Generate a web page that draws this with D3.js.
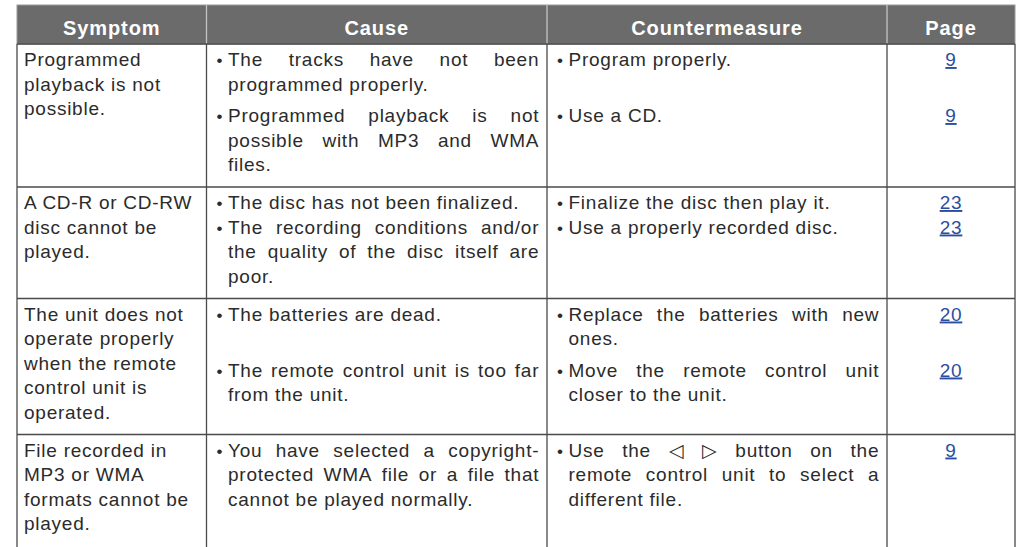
<!DOCTYPE html>
<html>
<head>
<meta charset="utf-8">
<script src="https://cdn.jsdelivr.net/npm/d3@7"></script>
<style>
  html, body { margin: 0; padding: 0; background: #ffffff; }
  svg { display: block; }
</style>
</head>
<body>
<div id="chart"></div>
<script>
// ---------- DATA ----------
const headers = ["Symptom", "Cause", "Countermeasure", "Page"];

const symptoms = [
  ["Programmed", "playback is not", "possible."],
  ["A CD-R or CD-RW", "disc cannot be", "played."],
  ["The unit does not", "operate properly", "when the remote", "control unit is", "operated."],
  ["File recorded in", "MP3 or WMA", "formats cannot be", "played."]
];

const causes = [
  [["The tracks have not been", "programmed properly."],
   ["Programmed playback is not", "possible with MP3 and WMA", "files."]],
  [["The disc has not been finalized."],
   ["The recording conditions and/or", "the quality of the disc itself are", "poor."]],
  [["The batteries are dead."],
   ["The remote control unit is too far", "from the unit."]],
  [["You have selected a copyright-", "protected WMA file or a file that", "cannot be played normally."]]
];

const countermeasures = [
  [["Program properly."], ["Use a CD."]],
  [["Finalize the disc then play it."], ["Use a properly recorded disc."]],
  [["Replace the batteries with new", "ones."], ["Move the remote control unit", "closer to the unit."]],
  [["Use the \u25C1 \u25B7 button on the", "remote control unit to select a", "different file."]]
];

const pages = [["9", "9"], ["23", "23"], ["20", "20"], ["9"]];

// ---------- LAYOUT ----------
const W = 1022, H = 547;
const FONT = "'Liberation Sans', Arial, Helvetica, sans-serif";
const FS = 19, LS = 0.75;
const LH = 24.5, FIRST = 22, PAD = 16, GAP = 7;
const HEAD_TOP = 5, TOP = 44;
const TEXT_COL = "#2b2b2b", LINK_COL = "#2b4ea2", RULE = "#4a4a4a";

const colX = d3.scaleOrdinal().domain(headers).range([17, 206.5, 547, 887]);
const colR = d3.scaleOrdinal().domain(headers).range([206.5, 547, 887, 1015]);
const LEFT = colX("Symptom"), RIGHT = colR("Page");

const svg = d3.select("#chart").append("svg")
  .attr("width", W).attr("height", H)
  .style("background", "#fff");

// compute rows
let yCur = TOP;
const rows = symptoms.map((s, i) => {
  const nItems = Math.max(causes[i].length, countermeasures[i].length);
  const sizes = d3.range(nItems).map(k =>
    Math.max((causes[i][k] || []).length, (countermeasures[i][k] || []).length));
  const starts = [];
  let off = 0;
  sizes.forEach(n => { starts.push(off); off += n * LH + (n > 1 ? GAP : 0); });
  const last = nItems - 1;
  const colEnd = starts[last] + (sizes[last] - 1) * LH;
  const symEnd = (s.length - 1) * LH;
  const h = FIRST + Math.max(colEnd, symEnd) + PAD;
  const row = { i, top: yCur, h, starts };
  yCur += h;
  return row;
});
// last row runs off the bottom of the page
rows[rows.length - 1].h = H + 20 - rows[rows.length - 1].top;

// header
svg.append("rect")
  .attr("x", LEFT).attr("y", HEAD_TOP)
  .attr("width", RIGHT - LEFT).attr("height", TOP - HEAD_TOP)
  .attr("fill", "#6b6b6b").attr("stroke", "#9a9a9a").attr("stroke-width", 1);

svg.append("g").selectAll("line").data(headers.slice(1)).join("line")
  .attr("x1", d => colX(d)).attr("x2", d => colX(d))
  .attr("y1", HEAD_TOP).attr("y2", TOP)
  .attr("stroke", "#c4c4c4").attr("stroke-width", 1.3);

svg.append("g").selectAll("text").data(headers).join("text")
  .attr("x", d => (colX(d) + colR(d)) / 2)
  .attr("y", 34.5)
  .attr("text-anchor", "middle")
  .attr("font-family", FONT).attr("font-size", 20).attr("font-weight", "bold")
  .attr("letter-spacing", 0.9)
  .attr("fill", "#ffffff")
  .text(d => d);

// rules
const gr = svg.append("g");
gr.selectAll("line.h").data(rows).join("line").attr("class", "h")
  .attr("x1", LEFT).attr("x2", RIGHT)
  .attr("y1", d => d.top).attr("y2", d => d.top)
  .attr("stroke", RULE).attr("stroke-width", 1.3);
gr.selectAll("line.v").data(headers.concat(["end"])).join("line").attr("class", "v")
  .attr("x1", d => d === "end" ? RIGHT : colX(d))
  .attr("x2", d => d === "end" ? RIGHT : colX(d))
  .attr("y1", TOP).attr("y2", H)
  .attr("stroke", RULE).attr("stroke-width", 1.3);

// text helpers
const measurer = svg.append("text")
  .attr("font-family", FONT).attr("font-size", FS).attr("letter-spacing", LS)
  .attr("visibility", "hidden");
function wordWidth(w) { measurer.text(w); return measurer.node().getComputedTextLength(); }

function drawLine(g, str, x, right, y, justify) {
  const t = g.append("text")
    .attr("y", y)
    .attr("font-family", FONT).attr("font-size", FS).attr("letter-spacing", LS)
    .attr("fill", TEXT_COL);
  if (!justify) { t.attr("x", x).text(str); return; }
  const words = str.split(" ");
  const widths = words.map(wordWidth);
  const total = d3.sum(widths);
  const gap = (right - x + LS - total) / (words.length - 1);
  let cx = x;
  words.forEach((w, k) => {
    t.append("tspan").attr("x", cx).text(w);
    cx += widths[k] + gap;
  });
}

const body = svg.append("g");
const SYM = "Symptom", CAU = "Cause", CM = "Countermeasure", PG = "Page";

rows.forEach(r => {
  const i = r.i;
  const base = r.top + FIRST;
  const g = body.append("g");
  // symptom
  symptoms[i].forEach((ln, k) => drawLine(g, ln, colX(SYM) + 7, colR(SYM), base + k * LH, false));
  // cause & countermeasure
  [[causes[i], CAU], [countermeasures[i], CM]].forEach(([items, col]) => {
    const tx = colX(col) + 21.5, rx = colR(col) - 8.5, bx = colX(col) + 13;
    items.forEach((lines, k) => {
      const y0 = base + r.starts[k];
      g.append("text")
        .attr("x", bx).attr("y", y0)
        .attr("text-anchor", "middle")
        .attr("font-family", FONT).attr("font-size", 17)
        .attr("fill", TEXT_COL).text("\u2022");
      lines.forEach((ln, j) =>
        drawLine(g, ln, tx, rx, y0 + j * LH, j < lines.length - 1));
    });
  });
  // pages
  pages[i].forEach((p, k) => {
    g.append("text")
      .attr("x", (colX(PG) + colR(PG)) / 2)
      .attr("y", base + r.starts[k])
      .attr("text-anchor", "middle")
      .attr("font-family", FONT).attr("font-size", FS).attr("letter-spacing", LS)
      .attr("fill", LINK_COL)
      .attr("text-decoration", "underline")
      .style("text-decoration", "underline")
      .text(p);
  });
});
measurer.remove();
</script>
</body>
</html>
